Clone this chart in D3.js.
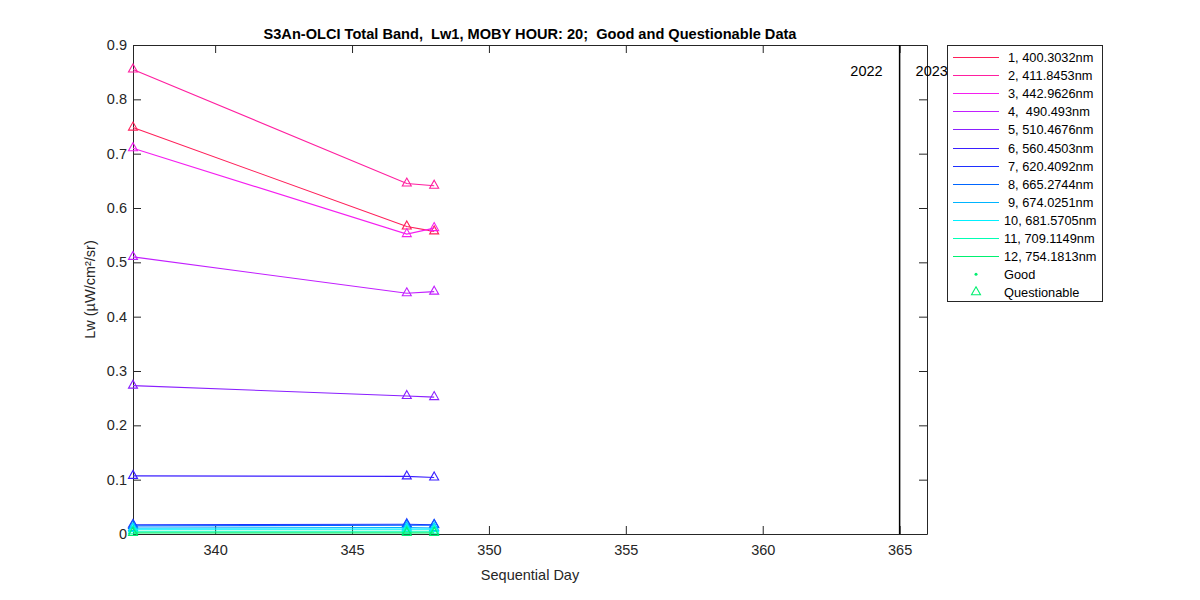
<!DOCTYPE html>
<html>
<head>
<meta charset="utf-8">
<script src="https://cdn.jsdelivr.net/npm/d3@7/dist/d3.min.js"></script>
<style>
  body { margin: 0; background: #fff; }
  svg { display: block; font-family: "Liberation Sans", Arial, sans-serif; }
  text { white-space: pre; }
</style>
</head>
<body>
<svg id="chart" width="1200" height="600"></svg>
<script>
// ---- data ----
const days = [337, 347, 348];
const bandLabels = [
  "1, 400.3032nm", "2, 411.8453nm", "3, 442.9626nm", "4,  490.493nm",
  "5, 510.4676nm", "6, 560.4503nm", "7, 620.4092nm", "8, 665.2744nm",
  "9, 674.0251nm", "10, 681.5705nm", "11, 709.1149nm", "12, 754.1813nm"
];
const bandColors = [
  "#ff1f5a", "#ff1fa0", "#f51ff0", "#c21fff", "#8a1fff", "#3a1fff",
  "#1f30ff", "#0066ff", "#00b4ff", "#00f0ff", "#00ffb4", "#00f070"
];
const band1  = [0.748, 0.566, 0.557];
const band2  = [0.855, 0.645, 0.641];
const band3  = [0.710, 0.552, 0.563];
const band4  = [0.510, 0.443, 0.446];
const band5  = [0.273, 0.254, 0.252];
const band6  = [0.107, 0.106, 0.104];
const band7  = [0.017, 0.018, 0.017];
const band8  = [0.015, 0.016, 0.016];
const band9  = [0.011, 0.012, 0.011];
const band10 = [0.009, 0.009, 0.009];
const band11 = [0.005, 0.005, 0.005];
const band12 = [0.002, 0.002, 0.002];
const bandValues = [band1, band2, band3, band4, band5, band6, band7, band8, band9, band10, band11, band12];
const xTicks = [340, 345, 350, 355, 360, 365];
const yTicks = [0, 0.1, 0.2, 0.3, 0.4, 0.5, 0.6, 0.7, 0.8, 0.9];
const yearBoundary = 365;
const yearLabels = ["2022", "2023"];

// ---- layout ----
const svg = d3.select("#chart");
const L = 133, R = 927, T = 45, B = 534;
const x = d3.scaleLinear().domain([337, 366]).range([L, R]);
const y = d3.scaleLinear().domain([0, 0.9]).range([B, T]);
const tickLen = 8;
const fontSize = 14.5;

// title
svg.append("text").attr("x", (L + R) / 2).attr("y", 39)
  .attr("text-anchor", "middle").attr("font-weight", "bold").attr("font-size", 14.6)
  .text("S3An-OLCI Total Band,  Lw1, MOBY HOUR: 20;  Good and Questionable Data");

// axes
const gx = svg.append("g").attr("transform", `translate(0,${B})`)
  .call(d3.axisBottom(x).tickValues(xTicks).tickSizeInner(-tickLen).tickSizeOuter(0).tickPadding(11));
const gxt = svg.append("g").attr("transform", `translate(0,${T})`)
  .call(d3.axisTop(x).tickValues(xTicks).tickSizeInner(-tickLen).tickSizeOuter(0).tickFormat(""));
const gy = svg.append("g").attr("transform", `translate(${L},0)`)
  .call(d3.axisLeft(y).tickValues(yTicks).tickSizeInner(-tickLen).tickSizeOuter(0).tickPadding(6)
    .tickFormat(d => d === 0 ? "0" : d3.format(".1f")(d)));
const gyr = svg.append("g").attr("transform", `translate(${R},0)`)
  .call(d3.axisRight(y).tickValues(yTicks).tickSizeInner(-tickLen).tickSizeOuter(0).tickFormat(""));
[gx, gxt, gy, gyr].forEach(g => {
  g.select(".domain").attr("stroke", "#262626");
  g.selectAll(".tick line").attr("stroke", "#262626");
  g.selectAll(".tick text").attr("font-size", fontSize).attr("fill", "#262626")
    .attr("font-family", "Liberation Sans, Arial, sans-serif");
});

// axis labels
svg.append("text").attr("x", (L + R) / 2).attr("y", 580).attr("text-anchor", "middle")
  .attr("font-size", fontSize).attr("fill", "#262626").text("Sequential Day");
svg.append("text").attr("transform", `translate(95,${(T + B) / 2}) rotate(-90)`)
  .attr("text-anchor", "middle").attr("font-size", fontSize).attr("fill", "#262626")
  .text("Lw (\u00b5W/cm\u00b2/sr)");

// year boundary
svg.append("line").attr("x1", x(yearBoundary)).attr("x2", x(yearBoundary))
  .attr("y1", y(0.9)).attr("y2", y(0)).attr("stroke", "#000").attr("stroke-width", 1.5);
svg.append("text").attr("x", x(yearBoundary) - 17).attr("y", 76).attr("text-anchor", "end")
  .attr("font-size", 14.5).text(yearLabels[0]);
svg.append("text").attr("x", x(yearBoundary) + 16).attr("y", 76).attr("text-anchor", "start")
  .attr("font-size", 14.5).text(yearLabels[1]);

// series
const tri = "M0,-5.5L4.5,2.5L-4.5,2.5Z";
const line = d3.line().x(d => x(d[0])).y(d => y(d[1]));
bandValues.forEach((vals, i) => {
  const pts = days.map((d, j) => [d, vals[j]]);
  svg.append("path").attr("d", line(pts)).attr("fill", "none")
    .attr("stroke", bandColors[i]).attr("stroke-width", 1.1);
  svg.append("g").selectAll("path").data(pts).join("path")
    .attr("transform", d => `translate(${x(d[0])},${y(d[1])})`)
    .attr("d", tri).attr("fill", "none").attr("stroke", bandColors[i]).attr("stroke-width", 1.1);
});

// legend
const lgX = 947, lgY = 45, lgW = 155, lgH = 256, rowH = 18.1;
svg.append("rect").attr("x", lgX + 0.5).attr("y", lgY + 0.5).attr("width", lgW).attr("height", lgH)
  .attr("fill", "#fff").attr("stroke", "#262626").attr("stroke-width", 1);
bandLabels.forEach((lab, i) => {
  const yy = Math.round(lgY + 12 + i * rowH) + 0.5;
  svg.append("line").attr("x1", lgX + 6).attr("x2", lgX + 52).attr("y1", yy).attr("y2", yy)
    .attr("stroke", bandColors[i]).attr("stroke-width", 1).attr("shape-rendering", "crispEdges");
  svg.append("text").attr("x", lgX + (lab.indexOf(",") === 2 ? 57 : 61)).attr("y", yy + 4.5)
    .attr("font-size", 12.8).text(lab);
});
const gY = lgY + 12 + 12 * rowH, qY = lgY + 12 + 13 * rowH;
svg.append("circle").attr("cx", lgX + 29).attr("cy", gY).attr("r", 1.5).attr("fill", bandColors[11]);
svg.append("text").attr("x", lgX + 57).attr("y", gY + 4.5).attr("font-size", 12.8).text("Good");
svg.append("path").attr("transform", `translate(${lgX + 29},${qY})`).attr("d", tri)
  .attr("fill", "none").attr("stroke", bandColors[11]).attr("stroke-width", 1.1);
svg.append("text").attr("x", lgX + 57).attr("y", qY + 4.5).attr("font-size", 12.8).text("Questionable");
</script>
</body>
</html>
